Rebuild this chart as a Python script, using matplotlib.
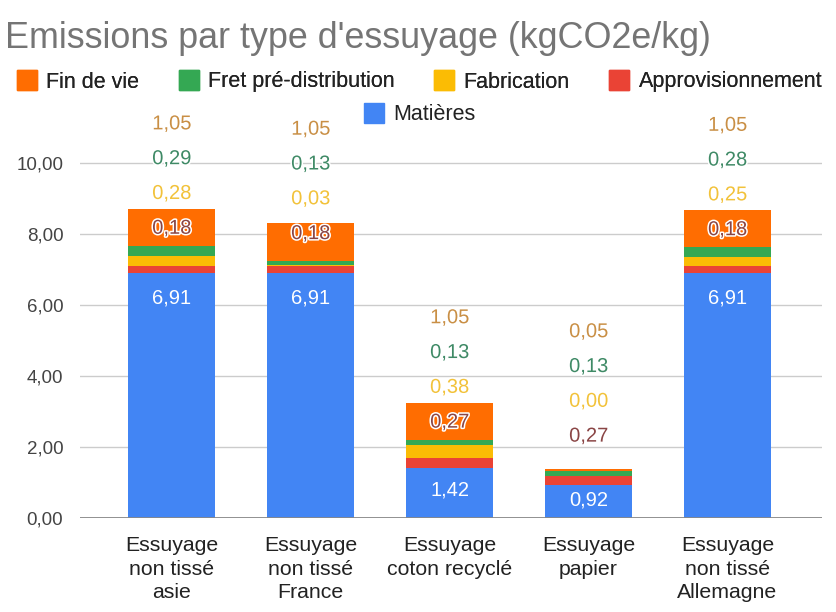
import matplotlib
matplotlib.use("Agg")
import matplotlib.pyplot as plt
import matplotlib.patheffects as pe
from matplotlib.lines import Line2D
import numpy as np

plt.rcParams['font.family'] = ['Liberation Sans', 'DejaVu Sans']

categories = ["Essuyage\nnon tissé\nasie", "Essuyage\nnon tissé\nFrance",
              "Essuyage\ncoton recyclé", "Essuyage\npapier",
              "Essuyage\nnon tissé\nAllemagne"]
series_names = ["Matières", "Approvisionnement", "Fabrication", "Fret pré-distribution", "Fin de vie"]
matieres = [6.91, 6.91, 1.42, 0.92, 6.91]
approvisionnement = [0.18, 0.18, 0.27, 0.27, 0.18]
fabrication = [0.28, 0.03, 0.38, 0.00, 0.25]
fret = [0.29, 0.13, 0.13, 0.13, 0.28]
fin_de_vie = [1.05, 1.05, 1.05, 0.05, 1.05]
yticks = [0, 2, 4, 6, 8, 10]

colors = ["#4285F4", "#EA4335", "#FBBC04", "#34A853", "#FF6D01"]
label_colors = ["white", "#8a4545", "#f2c23a", "#3f8a66", "#c98f45"]

data = [matieres, approvisionnement, fabrication, fret, fin_de_vie]

fig = plt.figure(figsize=(8.36, 6.12), dpi=100)
ax = fig.add_axes([80/836, (612-518)/612, 742/836, (518-115)/612])

x = np.arange(len(categories))
bottom = np.zeros(len(categories))
for vals, col, name in zip(data, colors, series_names):
    ax.bar(x, vals, width=0.63, bottom=bottom, color=col, label=name, zorder=3)
    bottom += np.array(vals)
totals = bottom

def fmt(v):
    return f"{v:.2f}".replace(".", ",")

halo = [pe.withStroke(linewidth=2.2, foreground="white")]
for i in range(len(categories)):
    top = matieres[i]
    ymat = max(top - 0.7, top * 0.55)
    ax.text(x[i], ymat, fmt(matieres[i]), ha="center", va="center",
            color="white", fontsize=14.5, zorder=5)
    start = max(totals[i] - 0.55, ymat + 1.8)
    for k, (vals, lc) in enumerate(zip(data[1:], label_colors[1:])):
        ax.text(x[i], start + 0.98 * k, fmt(vals[i]), ha="center", va="center",
                color=lc, fontsize=14.5, zorder=5, path_effects=halo)

ax.set_xlim(-0.66, 4.68)
ax.set_ylim(0, 11.35)
ax.set_yticks(yticks)
ax.set_yticklabels([fmt(v) for v in yticks], fontsize=13.5, color="#444444")
ax.set_xticks(x)
ax.set_xticklabels(categories, fontsize=15.3, color="#222222", linespacing=1.3)
ax.tick_params(axis="both", length=0)
ax.tick_params(axis="y", pad=12)
ax.tick_params(axis="x", pad=13)
ax.grid(axis="y", color="#cccccc", linewidth=1, zorder=0)
ax.axhline(0, color="#888888", linewidth=2, zorder=4)
for s in ax.spines.values():
    s.set_visible(False)

fig.text(5/836, 1 - 38/612, "Emissions par type d'essuyage (kgCO2e/kg)",
         fontsize=25.8, color="#757575", va="center", ha="left")

order = [4, 3, 2, 1]
handles = [Line2D([], [], marker="s", linestyle="", markersize=14, color=colors[j]) for j in order]
leg1 = fig.legend(handles, [series_names[j] for j in order], loc="center",
                  bbox_to_anchor=(0.5, 1 - 82/612), ncol=4, frameon=False,
                  fontsize=15.5, handletextpad=0.3, columnspacing=1.7, handlelength=1.2)
for t in leg1.get_texts():
    t.set_color("#222222")
h2 = [Line2D([], [], marker="s", linestyle="", markersize=14, color=colors[0])]
leg2 = fig.legend(h2, [series_names[0]], loc="center", bbox_to_anchor=(0.5, 1 - 115/612),
                  frameon=False, fontsize=15.5, handletextpad=0.3, handlelength=1.2)
for t in leg2.get_texts():
    t.set_color("#222222")
fig.add_artist(leg1)

fig.savefig("out.png", dpi=100)
